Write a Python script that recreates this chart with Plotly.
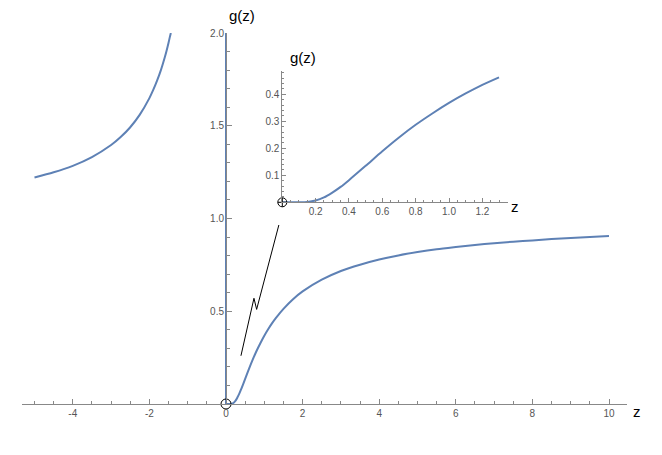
import plotly.graph_objects as go

# ---- data ----
z_left = [-5.0, -4.5, -4.0, -3.5, -3.0, -2.75, -2.5, -2.25, -2.0, -1.9, -1.8, -1.7, -1.6,
          -1.55, -1.5, -1.47, -1.44]
g_left = [1.221, 1.249, 1.284, 1.331, 1.396, 1.439, 1.492, 1.560, 1.649, 1.693, 1.743, 1.800,
          1.868, 1.906, 1.948, 1.975, 2.0]

z_right = [0.0, 0.05, 0.1, 0.15, 0.2, 0.25, 0.3, 0.35, 0.4, 0.5, 0.6, 0.7, 0.8, 0.9,
           1.0, 1.1, 1.2, 1.3, 1.5, 1.75, 2.0, 2.5, 3.0, 3.5, 4.0, 4.5, 5.0, 5.5, 6.0, 6.5,
           7.0, 7.5, 8.0, 8.5, 9.0, 9.5, 10.0]
g_right = [0.0, 0.0, 0.00005, 0.0013, 0.0067, 0.018, 0.036, 0.057, 0.082, 0.135, 0.189, 0.240,
           0.287, 0.329, 0.368, 0.403, 0.435, 0.463, 0.513, 0.565, 0.607, 0.670, 0.717, 0.751,
           0.779, 0.801, 0.819, 0.834, 0.846, 0.857, 0.867, 0.875, 0.882, 0.889, 0.895, 0.900,
           0.905]

zig_z = [0.39, 0.73, 0.80, 1.38]
zig_g = [0.26, 0.57, 0.51, 0.965]

x_ticks = [-4, -2, 0, 2, 4, 6, 8, 10]
y_ticks = [0.5, 1.0, 1.5, 2.0]
inset_x_ticks = [0.2, 0.4, 0.6, 0.8, 1.0, 1.2]
inset_y_ticks = [0.1, 0.2, 0.3, 0.4]
inset_z_max = 1.3

BLUE = "#5E81B5"
AXIS = "#888888"
TICKFONT = dict(family="Liberation Sans, Arial, sans-serif", size=10, color="#555555")
LABELFONT = dict(family="Liberation Sans, Arial, sans-serif", size=15, color="#000000")

# page body margin offset
OFF = 8
W, H = 662 - 2 * OFF, 455 - 2 * OFF
# plot area in page pixels
PL, PR, PT, PB = 22, 627, 33, 404
ML, MT = PL - OFF, PT - OFF
MR, MB = (W + OFF) - PR, (H + OFF) - PB
PW = PR - PL
PH = PB - PT
px_per_unit = 38.3
x0_px = 226
xr = [(PL - x0_px) / px_per_unit, (PR - x0_px) / px_per_unit]

fig = go.Figure()

line = dict(color=BLUE, width=2)
fig.add_trace(go.Scatter(x=z_left, y=g_left, mode="lines",
                         line=dict(shape="spline", smoothing=0.8, **line),
                         hoverinfo="skip", showlegend=False))
fig.add_trace(go.Scatter(x=z_right, y=g_right, mode="lines",
                         line=dict(shape="spline", smoothing=0.8, **line),
                         hoverinfo="skip", showlegend=False))
# blue line along the y-axis
fig.add_trace(go.Scatter(x=[0, 0], y=[0, 2.0], mode="lines", line=dict(color=BLUE, width=2),
                         hoverinfo="skip", showlegend=False))
# zigzag
fig.add_trace(go.Scatter(x=zig_z, y=zig_g, mode="lines", line=dict(color="black", width=1),
                         hoverinfo="skip", showlegend=False))
# origin marker
fig.add_trace(go.Scatter(x=[0], y=[0], mode="markers", cliponaxis=False,
                         marker=dict(symbol="circle-open", size=10, color="black", line=dict(width=1)),
                         hoverinfo="skip", showlegend=False))

# inset
zi = [z for z in z_right if z <= inset_z_max]
gi = [g for z, g in zip(z_right, g_right) if z <= inset_z_max]
fig.add_trace(go.Scatter(x=zi, y=gi, mode="lines",
                         line=dict(shape="spline", smoothing=0.8, **line),
                         xaxis="x2", yaxis="y2", hoverinfo="skip", showlegend=False))
fig.add_trace(go.Scatter(x=[0], y=[0], mode="markers", cliponaxis=False,
                         marker=dict(symbol="circle-cross-open", size=9, color="black", line=dict(width=1)),
                         xaxis="x2", yaxis="y2", hoverinfo="skip", showlegend=False))

yaxis_pos = (x0_px - PL) / PW

# inset geometry (page pixels)
ix0, ix1 = 282.3, 508.0
iy0, iy1 = 202.3, 71.4
ipx = 166.7
ipy = 270.0

fig.update_layout(
    width=W, height=H,
    margin=dict(l=ML, r=MR, t=MT, b=MB),
    paper_bgcolor="white", plot_bgcolor="white",
    xaxis=dict(range=xr, domain=[0, 1], showgrid=False, zeroline=False,
               showline=True, linecolor=AXIS, linewidth=1,
               ticks="inside", ticklen=5, tickcolor=AXIS, tickwidth=1,
               tickvals=x_ticks, ticktext=[str(v) for v in x_ticks], tickfont=TICKFONT,
               minor=dict(ticks="inside", ticklen=3, tickcolor=AXIS, dtick=0.5, tick0=0, showgrid=False),
               anchor="y"),
    yaxis=dict(range=[0, 2.0], domain=[0, 1], showgrid=False, zeroline=False,
               showline=True, linecolor=AXIS, linewidth=1,
               anchor="free", position=yaxis_pos,
               ticks="inside", ticklen=5, tickcolor=AXIS, tickwidth=1,
               tickvals=y_ticks, ticktext=["%.1f" % v for v in y_ticks], tickfont=TICKFONT,
               minor=dict(ticks="inside", ticklen=3, tickcolor=AXIS, dtick=0.1, tick0=0, showgrid=False)),
    xaxis2=dict(range=[0, (ix1 - ix0) / ipx],
                domain=[(ix0 - PL) / PW, (ix1 - PL) / PW], anchor="y2",
                showgrid=False, zeroline=False, showline=True, linecolor=AXIS, linewidth=1,
                ticks="inside", ticklen=4, tickcolor=AXIS,
                tickvals=inset_x_ticks, ticktext=["%.1f" % v for v in inset_x_ticks], tickfont=TICKFONT,
                minor=dict(ticks="inside", ticklen=2, tickcolor=AXIS, dtick=0.05, tick0=0, showgrid=False)),
    yaxis2=dict(range=[0, (iy0 - iy1) / ipy],
                domain=[(PB - iy0) / PH, (PB - iy1) / PH], anchor="x2",
                showgrid=False, zeroline=False, showline=True, linecolor=AXIS, linewidth=1,
                ticks="inside", ticklen=4, tickcolor=AXIS,
                tickvals=inset_y_ticks, ticktext=["%.1f" % v for v in inset_y_ticks], tickfont=TICKFONT,
                minor=dict(ticks="inside", ticklen=2, tickcolor=AXIS, dtick=0.02, tick0=0, showgrid=False)),
)

def paper_x(px):
    return (px - PL) / PW

def paper_y(py):
    return (PB - py) / PH

for txt, cx, cy in [("g(z)", 242, 16), ("g(z)", 303, 57), ("z", 637, 411), ("z", 515, 207)]:
    fig.add_annotation(text=txt, x=paper_x(cx), y=paper_y(cy), xref="paper", yref="paper",
                       xanchor="center", yanchor="middle", showarrow=False, font=LABELFONT)

fig.write_html("out.html")
